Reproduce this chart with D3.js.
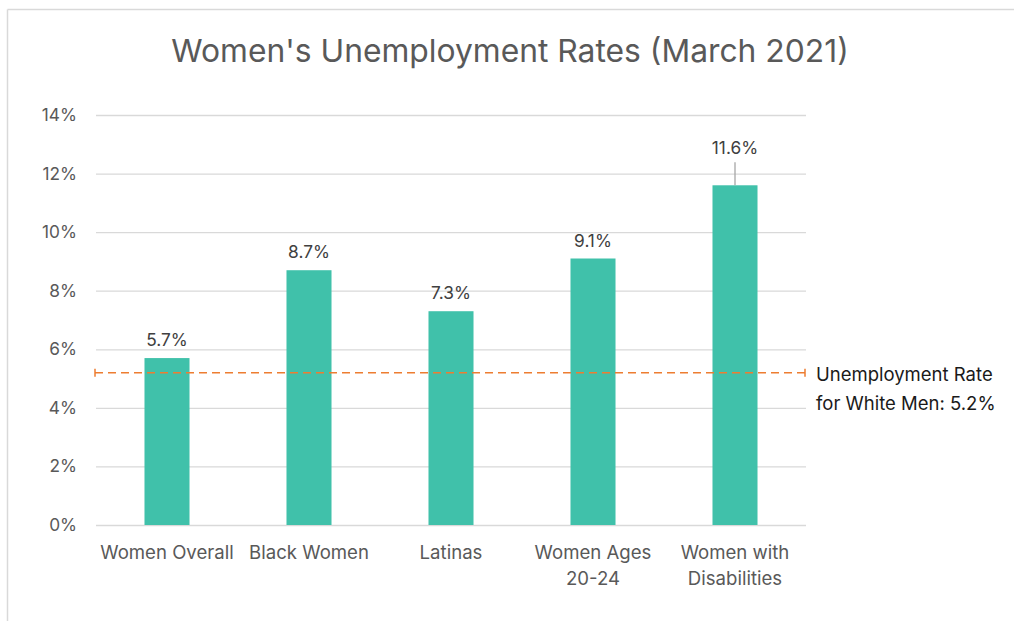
<!DOCTYPE html>
<html>
<head>
<meta charset="utf-8">
<script src="https://cdn.jsdelivr.net/npm/d3@7"></script>
<style>
  body { margin: 0; background: #fff; }
  svg { display: block; font-family: Inter, "Noto Sans", sans-serif; }
</style>
</head>
<body>
<div id="chart"></div>
<script>
var categories = ["Women Overall", "Black Women", "Latinas", "Women Ages\n20-24", "Women with\nDisabilities"];
var rates = [5.7, 8.7, 7.3, 9.1, 11.6];
var yTicks = [0, 2, 4, 6, 8, 10, 12, 14];
var benchmark = 5.2;
var benchmarkLabel = ["Unemployment Rate", "for White Men: 5.2%"];
var title = "Women's Unemployment Rates (March 2021)";

var width = 1014;
var height = 621;
var margin = { top: 115, right: 208, bottom: 96, left: 96 };

var svg = d3
  .select("#chart")
  .append("svg")
  .attr("width", width)
  .attr("height", height);

// chart frame (only top and left edges are visible in the crop)
svg.append("line")
  .attr("x1", 7.5).attr("x2", width).attr("y1", 9.5).attr("y2", 9.5)
  .attr("stroke", "#d9d9d9").attr("stroke-width", 1.5);
svg.append("line")
  .attr("x1", 7.5).attr("x2", 7.5).attr("y1", 9.5).attr("y2", height)
  .attr("stroke", "#d9d9d9").attr("stroke-width", 1.5);

var x = d3
  .scaleBand()
  .domain(categories)
  .range([margin.left, width - margin.right])
  .paddingInner(0.683)
  .paddingOuter(0.3415);

var y = d3
  .scaleLinear()
  .domain([0, 14])
  .range([height - margin.bottom, margin.top]);

svg.append("text")
  .attr("x", 510)
  .attr("y", 62)
  .attr("text-anchor", "middle")
  .attr("font-size", 31.8)
  .attr("fill", "#595959")
  .text(title);

// gridlines + y labels
var yAxis = d3
  .axisLeft(y)
  .tickValues(yTicks)
  .tickSize(-(width - margin.left - margin.right))
  .tickPadding(19)
  .tickFormat(function (d) { return d + "%"; });

var gy = svg.append("g")
  .attr("transform", "translate(" + margin.left + ",0)")
  .call(yAxis);
gy.select(".domain").remove();
gy.selectAll(".tick line").attr("stroke", "#d9d9d9").attr("stroke-width", 1.3);
gy.selectAll(".tick text")
  .attr("font-size", 17.3)
  .attr("fill", "#595959")
  .attr("font-family", "Inter, 'Noto Sans', sans-serif");

// bars
svg.append("g")
  .selectAll("rect")
  .data(rates)
  .enter()
  .append("rect")
  .attr("x", function (d, i) { return x(categories[i]); })
  .attr("y", function (d) { return y(d); })
  .attr("width", x.bandwidth())
  .attr("height", function (d) { return y(0) - y(d); })
  .attr("fill", "#40c1aa");

// value labels
svg.append("g")
  .selectAll("text")
  .data(rates)
  .enter()
  .append("text")
  .attr("x", function (d, i) { return x(categories[i]) + x.bandwidth() / 2; })
  .attr("y", function (d, i) { return i === 4 ? y(d) - 31 : y(d) - 12; })
  .attr("text-anchor", "middle")
  .attr("font-size", 17.3)
  .attr("fill", "#404040")
  .text(function (d) { return d.toFixed(1) + "%"; });

// leader line for the last label
var lastX = x(categories[4]) + x.bandwidth() / 2;
svg.append("line")
  .attr("x1", lastX).attr("x2", lastX)
  .attr("y1", y(rates[4]) - 23).attr("y2", y(rates[4]))
  .attr("stroke", "#a6a6a6").attr("stroke-width", 1.3);

// benchmark dashed line
var bx0 = margin.left - 1;
var bx1 = width - margin.right - 1;
svg.append("line")
  .attr("x1", bx0).attr("x2", bx1)
  .attr("y1", y(benchmark)).attr("y2", y(benchmark))
  .attr("stroke", "#ed7d31")
  .attr("stroke-width", 1.6)
  .attr("stroke-dasharray", "8,5");
[bx0, bx1].forEach(function (bx) {
  svg.append("line")
    .attr("x1", bx).attr("x2", bx)
    .attr("y1", y(benchmark) - 4).attr("y2", y(benchmark) + 4)
    .attr("stroke", "#ed7d31").attr("stroke-width", 1.5);
});

svg.append("text")
  .attr("x", 816)
  .attr("y", y(benchmark) + 8)
  .attr("font-size", 18.5)
  .attr("fill", "#1a1a1a")
  .selectAll("tspan")
  .data(benchmarkLabel)
  .enter()
  .append("tspan")
  .attr("x", 816)
  .attr("dy", function (d, i) { return i === 0 ? 0 : 29; })
  .text(function (d) { return d; });

// category labels
var gx = svg.append("g")
  .attr("transform", "translate(0," + y(0) + ")");
gx.selectAll("text")
  .data(categories)
  .enter()
  .append("text")
  .attr("x", function (d) { return x(d) + x.bandwidth() / 2; })
  .attr("y", 34)
  .attr("text-anchor", "middle")
  .attr("font-size", 18.6)
  .attr("fill", "#595959")
  .selectAll("tspan")
  .data(function (d) { return d.split("\n"); })
  .enter()
  .append("tspan")
  .attr("x", function () {
    var parent = d3.select(this.parentNode).datum();
    return x(parent) + x.bandwidth() / 2;
  })
  .attr("dy", function (d, i) { return i === 0 ? 0 : 26; })
  .text(function (d) { return d; });
</script>
</body>
</html>
